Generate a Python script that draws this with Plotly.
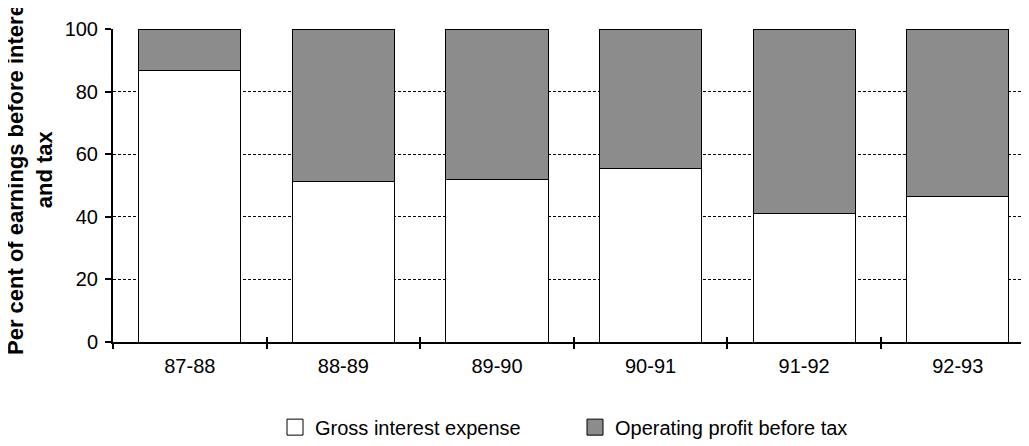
import plotly.graph_objects as go

categories = ["87-88", "88-89", "89-90", "90-91", "91-92", "92-93"]
gross_interest = [86.9, 51.4, 52.0, 55.5, 41.2, 46.5]
operating_profit = [13.1, 48.6, 48.0, 44.5, 58.8, 53.5]
y_ticks = [0, 20, 40, 60, 80, 100]

FONT = "Liberation Sans, Arial, sans-serif"
GRAY = "#8c8c8c"

# page body has an 8px default margin; figure coordinates are compensated
L, T, B = 105, 21, 112
PLOT_H = 446 - T - B

fig = go.Figure()
fig.add_trace(go.Bar(x=categories, y=gross_interest, name="Gross interest expense",
                     marker=dict(color="white", line=dict(color="black", width=1)),
                     showlegend=False))
fig.add_trace(go.Bar(x=categories, y=operating_profit, name="Operating profit before tax",
                     marker=dict(color=GRAY, line=dict(color="black", width=1)),
                     showlegend=False))
# legend proxies
fig.add_trace(go.Scatter(x=[None], y=[None], mode="markers", name="Gross interest expense",
                         marker=dict(symbol="square", size=16, color="white",
                                     line=dict(color="black", width=1))))
fig.add_trace(go.Scatter(x=[None], y=[None], mode="markers", name="Operating profit before tax",
                         marker=dict(symbol="square", size=16, color=GRAY,
                                     line=dict(color="black", width=1))))
# helper trace for inner tick axis
fig.add_trace(go.Scatter(x=[None], y=[None], xaxis="x2", showlegend=False, hoverinfo="skip"))

xr = [-0.5, 5.516]
fig.update_layout(
    width=1029, height=446,
    margin=dict(l=L, r=0, t=T, b=B, autoexpand=False),
    paper_bgcolor="white", plot_bgcolor="white",
    barmode="stack", bargap=0.335,
    font=dict(family=FONT, size=20, color="black"),
    xaxis=dict(type="category", range=xr, tickson="boundaries", ticks="outside",
               ticklen=5, tickwidth=2, tickcolor="black", ticklabelstandoff=5,
               showline=True, linewidth=2, linecolor="black",
               showgrid=False, tickfont=dict(size=20), automargin=False),
    xaxis2=dict(overlaying="x", anchor="y", range=xr, tickvals=[-0.5, 0.5, 1.5, 2.5, 3.5, 4.5, 5.5],
                ticks="inside", ticklen=5, tickwidth=2, tickcolor="black",
                showticklabels=False, showgrid=False, zeroline=False, showline=False),
    yaxis=dict(range=[0, 100], tickvals=y_ticks, ticks="outside", ticklen=6, tickwidth=2,
               tickcolor="black", showline=True, linewidth=2, linecolor="black",
               ticklabelstandoff=3,
               showgrid=True, gridcolor="black", gridwidth=1, griddash="3px,2px",
               zeroline=False, tickfont=dict(size=20), automargin=False),
    legend=dict(orientation="h", x=0.5, xanchor="center", y=-0.272, yanchor="middle",
                font=dict(size=20), itemsizing="trace", entrywidth=255, traceorder="normal"),
    annotations=[dict(text="<b>Per cent of earnings before interest<br>and tax</b>",
                      textangle=-90, xref="paper", yref="paper",
                      x=(22 - L) / (1029 - L), y=(446 - B - 162) / PLOT_H,
                      xanchor="center", yanchor="middle", showarrow=False,
                      font=dict(size=22, family=FONT))],
)

fig.write_html("out.html")
